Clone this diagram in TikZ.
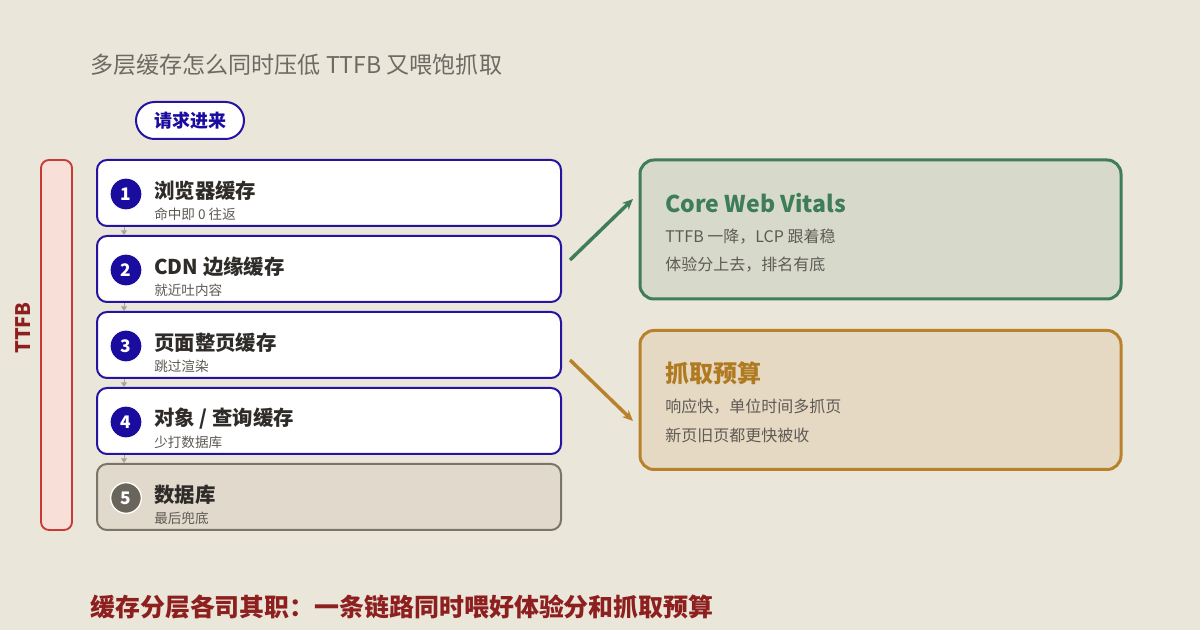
\documentclass[tikz,border=0pt]{standalone}
\usepackage{fontspec}
\setmainfont{Noto Sans CJK SC}
\usetikzlibrary{arrows.meta}
\definecolor{bg}{HTML}{EBE6DA}
\definecolor{navy}{HTML}{2414A0}
\definecolor{navyc}{HTML}{1A0C9E}
\definecolor{ink}{HTML}{2E2B28}
\definecolor{subc}{HTML}{5E5A54}
\definecolor{titlec}{HTML}{6E6A63}
\definecolor{dbfill}{HTML}{E0D9CC}
\definecolor{dbdraw}{HTML}{7A756B}
\definecolor{dbcirc}{HTML}{6A655C}
\definecolor{barfill}{HTML}{F8DFD8}
\definecolor{bardraw}{HTML}{C83A36}
\definecolor{darkred}{HTML}{8E1F1F}
\definecolor{grn}{HTML}{3E7D58}
\definecolor{grnfill}{HTML}{D7DACB}
\definecolor{org}{HTML}{B8822C}
\definecolor{orgtext}{HTML}{B07A20}
\definecolor{orgfill}{HTML}{E6D9C3}
\definecolor{conn}{HTML}{A8A39A}
\begin{document}
\begin{tikzpicture}[x=0.75pt,y=-0.75pt,
  layer/.style={draw=navy, line width=1.5pt, fill=white, rounded corners=7.5pt, minimum width=348pt, minimum height=49.5pt, inner sep=0pt},
  dblayer/.style={layer, draw=dbdraw, fill=dbfill},
  num/.style={circle, fill=navyc, minimum size=23pt, inner sep=0pt, text=white, font=\bfseries\fontsize{13}{13}\selectfont},
  dbnum/.style={num, fill=dbcirc, draw=white, line width=1pt},
  ttl/.style={anchor=west, text=ink, font=\bfseries\fontsize{15.3}{18}\selectfont, inner sep=0pt},
  sub/.style={anchor=west, text=subc, font=\fontsize{10.2}{12}\selectfont, inner sep=0pt},
  card/.style={line width=2.25pt, rounded corners=10.5pt, minimum width=360.75pt, minimum height=104.25pt, inner sep=0pt},
  cardttl/.style={anchor=west, font=\bfseries\fontsize{18}{21}\selectfont, inner sep=0pt},
  cardline/.style={anchor=west, text=subc, font=\fontsize{12}{14}\selectfont, inner sep=0pt},
  link/.style={conn, line width=0.5pt, -{Triangle[length=3.5pt,width=4.5pt]}},
  bigarrow/.style={line width=2.6pt, -{Stealth[length=8pt,width=7pt]}}
]
\useasboundingbox (0,0) rectangle (1200,630);
\fill[bg] (0,0) rectangle (1200,630);

% title
\node[anchor=west, inner sep=0pt, text=titlec, font=\fontsize{17.3}{20}\selectfont] (title) at (90,65) {多层缓存怎么同时压低 TTFB 又喂饱抓取};

% request pill
\node[draw=navy, line width=1.5pt, fill=white, rounded corners=13.9pt, minimum width=81pt, minimum height=27.75pt, inner sep=0pt, text=navyc, font=\bfseries\fontsize{13.5}{16}\selectfont] (req) at (190,120.5) {请求进来};

% TTFB bar
\node[draw=bardraw, fill=barfill, line width=1.4pt, rounded corners=6pt, minimum width=23.25pt, minimum height=277.5pt, inner sep=0pt] (bar) at (56.5,345) {};
\node[rotate=90, text=darkred, font=\bfseries\fontsize{15}{18}\selectfont, inner sep=0pt] (barlbl) at (23,328) {TTFB};

% layers
\node[layer] (b1) at (329,193) {};
\node[layer] (b2) at (329,269) {};
\node[layer] (b3) at (329,345) {};
\node[layer] (b4) at (329,421) {};
\node[dblayer] (b5) at (329,497) {};

\node[num] (n1) at (126,194) {1};
\node[num] (n2) at (126,270) {2};
\node[num] (n3) at (126,346) {3};
\node[num] (n4) at (126,422) {4};
\node[dbnum] (n5) at (126,498) {5};

\node[ttl] (t1) at (154,191) {浏览器缓存};
\node[sub] (s1) at (154,214) {命中即 0 往返};
\node[ttl] (t2) at (154,267) {CDN 边缘缓存};
\node[sub] (s2) at (154,290) {就近吐内容};
\node[ttl] (t3) at (154,343) {页面整页缓存};
\node[sub] (s3) at (154,366) {跳过渲染};
\node[ttl] (t4) at (154,419) {对象 / 查询缓存};
\node[sub] (s4) at (154,442) {少打数据库};
\node[ttl] (t5) at (154,495) {数据库};
\node[sub] (s5) at (154,518) {最后兜底};

% links between layers
\path (b1.south west) ++(28,0) coordinate (l1a) (b2.north west) ++(28,0) coordinate (l1b);
\draw[link] (l1a) -- (l1b);
\path (b2.south west) ++(28,0) coordinate (l2a) (b3.north west) ++(28,0) coordinate (l2b);
\draw[link] (l2a) -- (l2b);
\path (b3.south west) ++(28,0) coordinate (l3a) (b4.north west) ++(28,0) coordinate (l3b);
\draw[link] (l3a) -- (l3b);
\path (b4.south west) ++(28,0) coordinate (l4a) (b5.north west) ++(28,0) coordinate (l4b);
\draw[link] (l4a) -- (l4b);

% right cards
\node[card, draw=grn, fill=grnfill] (cwv) at (880.5,229.5) {};
\node[cardttl, text=grn, font=\bfseries\fontsize{17.3}{21}\selectfont] (cwvt) at (665,203) {Core Web Vitals};
\node[cardline] (cwv1) at (665,237) {TTFB 一降，LCP 跟着稳};
\node[cardline] (cwv2) at (665,265) {体验分上去，排名有底};

\node[card, draw=org, fill=orgfill] (bud) at (880.5,400) {};
\node[cardttl, text=orgtext] (budt) at (665,373) {抓取预算};
\node[cardline] (bud1) at (665,407) {响应快，单位时间多抓页};
\node[cardline] (bud2) at (665,435) {新页旧页都更快被收};

% big arrows
\coordinate (ga) at (570,260);
\coordinate (gb) at (633,199);
\coordinate (oa) at (570,360);
\coordinate (ob) at (633,421);
\draw[bigarrow, grn] (ga) -- (gb);
\draw[bigarrow, org] (oa) -- (ob);

% bottom line
\node[anchor=west, inner sep=0pt, text=darkred, font=\bfseries\fontsize{18.7}{22}\selectfont] (foot) at (90,607) {缓存分层各司其职：一条链路同时喂好体验分和抓取预算};
\end{tikzpicture}
\end{document}
